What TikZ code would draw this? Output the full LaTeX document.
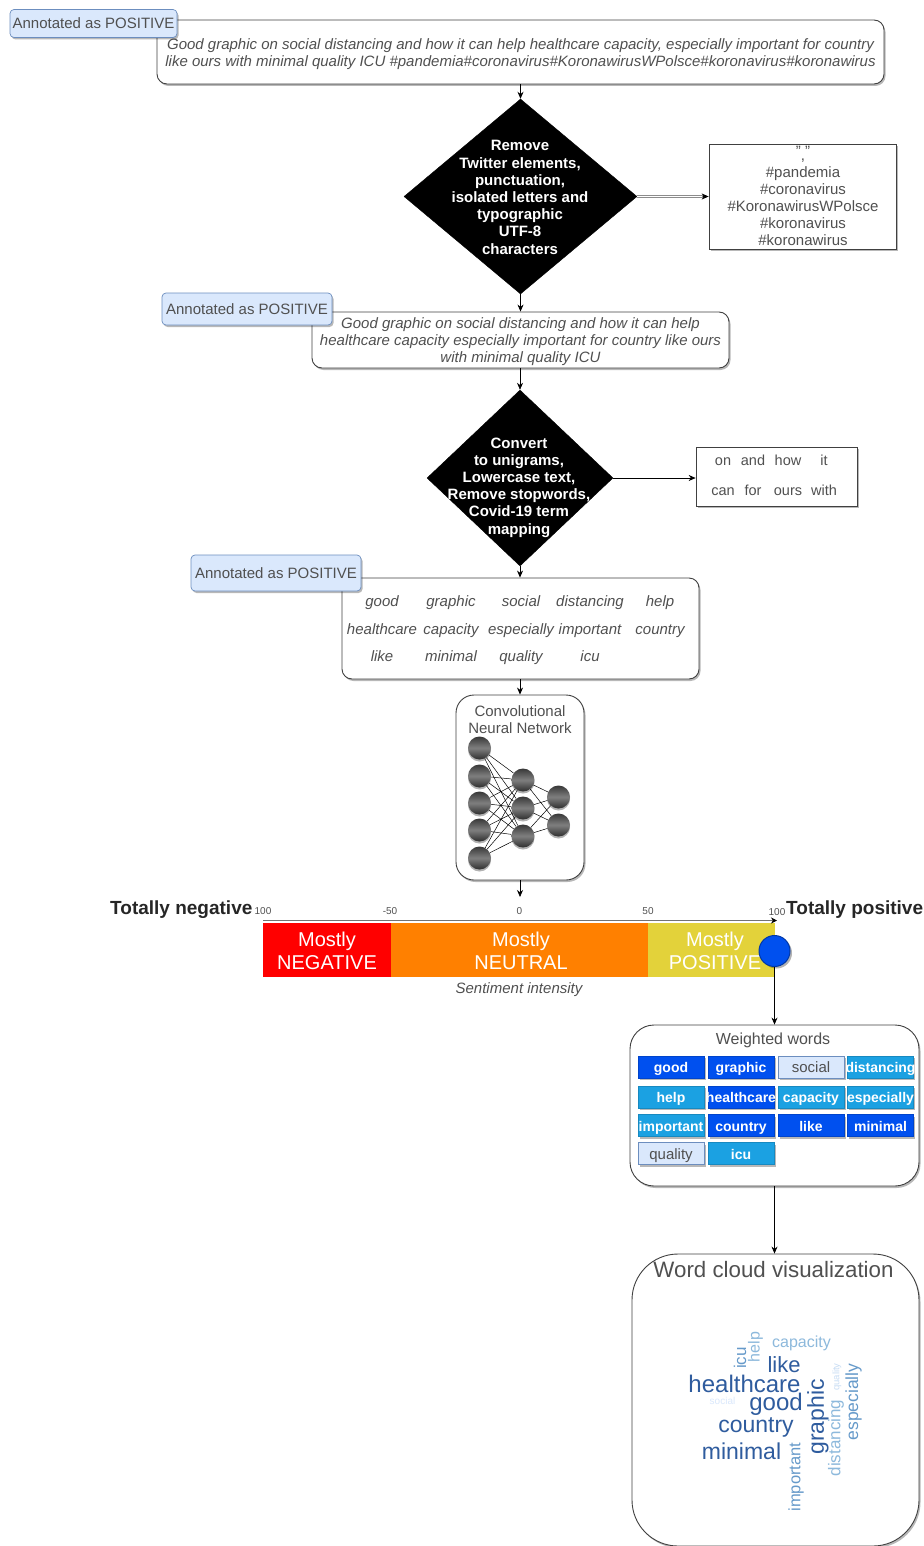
\documentclass[tikz,border=0pt]{standalone}
\usepackage{fontspec}
\setmainfont{Liberation Sans}
\usetikzlibrary{shapes.geometric,shadows,arrows.meta}
\definecolor{txt}{HTML}{505050}
\definecolor{edgec}{HTML}{404040}
\definecolor{ablue}{HTML}{0050EF}
\definecolor{lblue}{HTML}{1BA1E2}
\definecolor{pale}{HTML}{DAE8FC}
\definecolor{paleb}{HTML}{6C8EBF}
\definecolor{cd}{HTML}{2F5C9E}
\definecolor{cm}{HTML}{5C92C6}
\definecolor{cl}{HTML}{8DB9DC}
\newcommand{\fz}[2]{\fontsize{#1}{#2}\selectfont}
\newcommand{\clp}[1]{\makebox[0pt]{#1}}
\tikzset{
  softshadow/.style={drop shadow={shadow xshift=1.5pt,shadow yshift=-2pt,fill=black,opacity=.28}},
  rbox/.style={draw=edgec,line width=.9pt,fill=white,rounded corners=10pt,inner sep=0pt,softshadow},
  sqbox/.style={draw=edgec,line width=.7pt,fill=white,inner sep=0pt,softshadow},
  annot/.style={draw=paleb,line width=.7pt,fill=pale,rounded corners=4pt,inner sep=0pt,text=txt,font=\fz{15}{17},softshadow},
  tweet/.style={text=txt,font=\fz{15}{17}\itshape,align=center,inner sep=0pt},
  gridword/.style={text=txt,font=\fz{15}{17}\itshape,inner sep=0pt,text height=13pt,text depth=2pt},
  plain/.style={text=txt,font=\fz{15}{17},align=center,inner sep=0pt},
  stopword/.style={plain,text height=13pt,text depth=2pt,font=\fz{14.5}{17}},
  decision/.style={diamond,fill=black,draw=black,inner sep=0pt,aspect=1},
  dectext/.style={text=white,font=\fz{15}{17.2}\bfseries,align=center,inner sep=0pt},
  flow/.style={draw=black,line width=.7pt,-{Stealth[length=7pt,width=6pt]}},
  neuron/.style={circle,minimum size=23pt,inner sep=0pt,top color=black!78,bottom color=black!82,middle color=black!50,drop shadow={shadow xshift=0pt,shadow yshift=-2pt,fill=black,opacity=.3}},
  neurolink/.style={draw=black,line width=.5pt},
  band/.style={inner sep=0pt,minimum height=54pt},
  bandtext/.style={inner sep=0pt,text=white,font=\fz{20}{23},align=center},
  tick/.style={text=txt,font=\fz{10}{12},inner sep=0pt},
  bigside/.style={text=black!85,font=\fz{19}{21}\bfseries,inner sep=0pt},
  chip/.style={minimum width=66pt,minimum height=22pt,inner sep=0pt,font=\fz{14}{16}\bfseries,text=white,text height=13pt,text depth=2pt,softshadow},
  chipa/.style={chip,fill=ablue,draw=ablue!85!black,line width=.5pt},
  chipb/.style={chip,fill=lblue,draw=lblue!85!black,line width=.5pt},
  chipc/.style={chip,fill=pale,draw=paleb,line width=.7pt,text=txt,font=\fz{15}{16}},
  cloud/.style={inner sep=0pt}
}
\begin{document}
\begin{tikzpicture}[x=1pt,y=-1pt]
\useasboundingbox (0,0) rectangle (923,1546);
% boxes
\node[rbox,minimum width=727pt,minimum height=64pt] (b1) at (520.5,52) {};
\node[tweet] (b1t) at (520.5,54.5) {Good graphic on social distancing and how it can help healthcare capacity, especially important for country\\like ours with minimal quality ICU \#pandemia\#coronavirus\#KoronawirusWPolsce\#koronavirus\#koronawirus};
\node[annot,minimum width=167pt,minimum height=28pt] (a1) at (93.5,23.5) {Annotated as POSITIVE};
\node[decision,minimum width=233pt,minimum height=195pt] (d1) at (520.5,196.5) {};
\node[dectext] (d1t) at (520,197.5) {Remove\\Twitter elements,\\punctuation,\\isolated letters and\\typographic\\UTF-8\\characters};
\node[sqbox,minimum width=187pt,minimum height=105pt] (r1) at (802.5,196.5) {};
\node[plain] (r1q) at (803,151.5) {" "};
\node[plain] (r1c) at (803,160.5) {,};
\node[plain] (r1t) at (803,206) {\#pandemia\\\#coronavirus\\\#KoronawirusWPolsce\\\#koronavirus\\\#koronawirus};
\node[rbox,minimum width=417pt,minimum height=56pt] (b2) at (520.5,340) {};
\node[tweet] (b2t) at (520.5,342) {Good graphic on social distancing and how it can help\\healthcare capacity especially important for country like ours\\with minimal quality ICU};
\node[annot,minimum width=170pt,minimum height=32pt] (a2) at (247,309) {Annotated as POSITIVE};
\node[decision,minimum width=186pt,minimum height=176pt] (d2) at (520,478) {};
\node[dectext] (d2t) at (519,487.5) {Convert\\to unigrams,\\Lowercase text,\\Remove stopwords,\\Covid-19 term\\mapping};
\node[sqbox,minimum width=161pt,minimum height=59pt] (r2) at (776.5,476.5) {};
\foreach \w/\x/\y [count=\i] in {on/723/460,and/753/460,how/788/460,it/824/460,can/723/490,for/753/490,ours/788/490,with/824/490}
  \node[stopword] (s\i) at (\x,\y) {\w};
\node[rbox,minimum width=357pt,minimum height=101pt] (b3) at (520.5,628.5) {};
\foreach \w/\x/\y [count=\i] in {good/382/601,graphic/451/601,social/521/601,distancing/590/601,help/660/601,healthcare/382/629,capacity/451/629,especially/521/629,important/590/629,country/660/629,like/382/656,minimal/451/656,quality/521/656,icu/590/656}
  \node[gridword] (g\i) at (\x,\y) {\w};
\node[annot,minimum width=170pt,minimum height=36pt] (a3) at (276,573) {Annotated as POSITIVE};
% CNN
\node[rbox,rounded corners=18pt,minimum width=128pt,minimum height=185pt] (cnn) at (520,787.5) {};
\node[plain] (cnnt) at (520,720) {Convolutional\\Neural Network};
\foreach \y [count=\i] in {748,776,803,830,858} \node[neuron] (n\i) at (479.5,\y) {};
\foreach \y [count=\i] in {780,808,836} \node[neuron] (m\i) at (523,\y) {};
\foreach \y [count=\i] in {797,825} \node[neuron] (k\i) at (558.5,\y) {};
\foreach \i in {1,...,5} \foreach \j in {1,2,3} \draw[neurolink] (n\i) -- (m\j);
\foreach \i in {1,2,3} \foreach \j in {1,2} \draw[neurolink] (m\i) -- (k\j);
% sentiment bar
\node[band,fill=red,minimum width=128pt] (neg) at (327,950) {};
\node[band,fill=orange!100!red,minimum width=257pt] (neu) at (519.5,950) {};
\node[band,fill={rgb,255:red,227;green,210;blue,58},minimum width=127pt] (pos) at (711.5,950) {};
\node[bandtext] (negt) at (327,951) {Mostly\\NEGATIVE};
\node[bandtext] (neut) at (521,951) {Mostly\\NEUTRAL};
\node[bandtext] (post) at (715,951) {Mostly\\POSITIVE};
\coordinate (ax0) at (263,920.5);
\coordinate (ax1) at (777,920.5);
\draw[draw=black!55,line width=.8pt,-{Stealth[length=6pt,width=6pt,color=black]}] (ax0) -- (ax1);
\node[tick] (t1) at (263,911) {100};
\node[tick] (t2) at (390,911) {-50};
\node[tick] (t3) at (519.5,911) {0};
\node[tick] (t4) at (648,911) {50};
\node[tick] (t5) at (777,912) {100};
\node[bigside,anchor=west] (tn) at (110,910) {Totally negative};
\node[bigside,anchor=west] (tp) at (786,910) {Totally positive};
\node[tweet] (si) at (519,990) {Sentiment intensity};
\node[circle,fill=ablue,draw=ablue!70!black,line width=1pt,minimum size=31pt,inner sep=0pt,drop shadow={shadow xshift=2pt,shadow yshift=-2pt,fill=black,opacity=.3}] (mark) at (774.5,951) {};
% weighted words
\node[rbox,rounded corners=24pt,minimum width=289pt,minimum height=161pt] (ww) at (774.5,1105.5) {};
\node[plain,font=\fz{16}{18}] (wwt) at (773,1040) {Weighted words};
\node[chipa] (c1) at (671,1067) {\clp{good}};
\node[chipa] (c2) at (741,1067) {\clp{graphic}};
\node[chipc] (c3) at (811,1067) {\clp{social}};
\node[chipb] (c4) at (880.5,1067) {\clp{distancing}};
\node[chipb] (c5) at (671,1097) {\clp{help}};
\node[chipa] (c6) at (741,1097) {\clp{healthcare}};
\node[chipb] (c7) at (811,1097) {\clp{capacity}};
\node[chipb] (c8) at (880.5,1097) {\clp{especially}};
\node[chipb] (c9) at (671,1125.5) {\clp{important}};
\node[chipa] (c10) at (741,1125.5) {\clp{country}};
\node[chipa] (c11) at (811,1125.5) {\clp{like}};
\node[chipa] (c12) at (880.5,1125.5) {\clp{minimal}};
\node[chipc] (c13) at (671,1153.5) {\clp{quality}};
\node[chipb] (c14) at (741,1153.5) {\clp{icu}};
% word cloud
\node[rbox,rounded corners=46pt,minimum width=287pt,minimum height=292pt] (wc) at (775.5,1400) {};
\node[plain,font=\fz{22.3}{24}] (wct) at (773.5,1270) {Word cloud visualization};
\node[cloud,text=cd,font=\fz{24}{26}] (w1) at (744.5,1384) {healthcare};
\node[cloud,text=cd,font=\fz{22}{24}] (w2) at (784,1365) {like};
\node[cloud,text=cd,font=\fz{24}{26}] (w3) at (776,1404) {good};
\node[cloud,text=cd,font=\fz{23}{25}] (w4) at (756,1427) {country};
\node[cloud,text=cd,font=\fz{23}{25}] (w5) at (741.5,1451) {minimal};
\node[cloud,text=cl,font=\fz{16}{18}] (w6) at (801.5,1343) {capacity};
\node[cloud,text=cl,rotate=90,font=\fz{16}{18}] (w7) at (755.5,1347) {help};
\node[cloud,text=cm!80!cl,rotate=90,font=\fz{17}{19}] (w8) at (740,1358) {icu};
\node[cloud,text=cd,rotate=90,font=\fz{23}{25}] (w9) at (818,1417) {graphic};
\node[cloud,text=pale!75!cl,rotate=90,font=\fz{9.5}{11}] (w10) at (837,1377) {quality};
\node[cloud,text=cm!80!cl,rotate=90,font=\fz{17.5}{19}] (w11) at (853.5,1402) {especially};
\node[cloud,text=cl,rotate=90,font=\fz{17}{19}] (w12) at (836,1438) {distancing};
\node[cloud,text=cm!80!cl,rotate=90,font=\fz{16.5}{18}] (w13) at (796,1477) {important};
\node[cloud,text=pale,font=\fz{10}{12}] (w14) at (722.5,1401) {social};
% connectors
\draw[flow] (b1.south -| d1.north) -- (d1.north);
\draw[draw=black!45,line width=2.6pt] (d1.east) -- ([xshift=-6pt]r1.west);
\draw[draw=white,line width=1pt,shorten >=1pt] (d1.east) -- ([xshift=-6pt]r1.west);
\draw[flow] ([xshift=-6pt]r1.west) -- (r1.west);
\draw[flow] (d1.south) -- (b2.north -| d1.south);
\draw[flow] (b2.south -| d2.north) -- (d2.north);
\draw[flow] (d2.east) -- (r2.west |- d2.east);
\draw[flow] (d2.south) -- (b3.north -| d2.south);
\draw[flow] (b3.south -| cnn.north) -- (cnn.north);
\coordinate (cnnout) at (520,897);
\draw[flow] (cnn.south) -- (cnnout);
\draw[flow] (mark.south) -- (ww.north -| mark.south);
\draw[flow] (ww.south) -- (wc.north -| ww.south);
\end{tikzpicture}
\end{document}
